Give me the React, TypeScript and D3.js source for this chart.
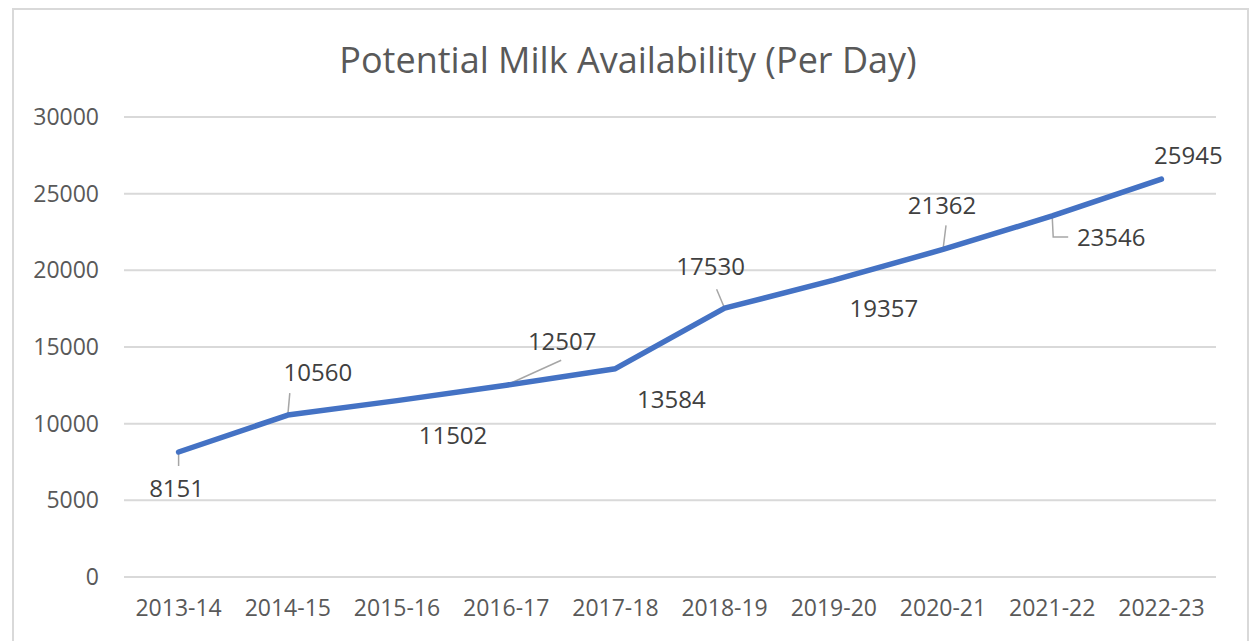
import * as d3 from "d3";
import React, { useEffect, useRef } from "react";

const years = [
  "2013-14",
  "2014-15",
  "2015-16",
  "2016-17",
  "2017-18",
  "2018-19",
  "2019-20",
  "2020-21",
  "2021-22",
  "2022-23",
];
const milkPerDay = [8151, 10560, 11502, 12507, 13584, 17530, 19357, 21362, 23546, 25945];
const yTicks = [0, 5000, 10000, 15000, 20000, 25000, 30000];

// where each data label sits relative to its point, and optional leader line points
const labelLayout: { dx: number; dy: number; leader?: [number, number][] }[] = [
  { dx: -2, dy: 37, leader: [[0, 14]] },
  { dx: 30, dy: -42, leader: [[2, -22]] },
  { dx: 56, dy: 35 },
  { dx: 56, dy: -44, leader: [[55, -25]] },
  { dx: 56, dy: 31 },
  { dx: -14, dy: -42, leader: [[-8, -19]] },
  { dx: 50, dy: 28 },
  { dx: -1, dy: -44, leader: [[3, -24]] },
  { dx: 59, dy: 22, leader: [[1, 21], [16, 21]] },
  { dx: 27, dy: -24 },
];

const W = 1252;
const H = 641;
const FONT = "'Open Sans', 'Noto Sans', sans-serif";
const TEXT = "#595959";

const App: React.FC = () => {
  const svgRef = useRef<SVGSVGElement>(null);

  useEffect(() => {
    if (!svgRef.current) return;
    const svg = d3.select(svgRef.current);
    svg.selectAll("*").remove();

    const left = 124;
    const right = 1216;
    const top = 117;
    const bottom = 577;

    svg.append("rect").attr("width", W).attr("height", H).attr("fill", "#fff");
    // chart frame
    svg
      .append("rect")
      .attr("x", 13)
      .attr("y", 9)
      .attr("width", 1235)
      .attr("height", 660)
      .attr("fill", "none")
      .attr("stroke", "#d9d9d9")
      .attr("stroke-width", 2);

    const x = d3.scaleBand().domain(years).range([left, right]);
    const y = d3.scaleLinear().domain([0, 30000]).range([bottom, top]);
    const cx = (d: string) => (x(d) || 0) + x.bandwidth() / 2;

    // gridlines
    svg
      .append("g")
      .selectAll("line")
      .data(yTicks)
      .join("line")
      .attr("x1", left)
      .attr("x2", right)
      .attr("y1", (d) => y(d))
      .attr("y2", (d) => y(d))
      .attr("stroke", "#d9d9d9")
      .attr("stroke-width", 2);

    // y tick labels
    svg
      .append("g")
      .selectAll("text")
      .data(yTicks)
      .join("text")
      .attr("x", 99)
      .attr("y", (d) => y(d))
      .attr("dy", "0.35em")
      .attr("text-anchor", "end")
      .attr("fill", TEXT)
      .style("font-family", FONT)
      .style("font-size", "23px")
      .text((d) => String(d));

    // x tick labels
    svg
      .append("g")
      .selectAll("text")
      .data(years)
      .join("text")
      .attr("x", (d) => cx(d))
      .attr("y", 608)
      .attr("dy", "0.35em")
      .attr("text-anchor", "middle")
      .attr("fill", TEXT)
      .style("font-family", FONT)
      .style("font-size", "23px")
      .text((d) => d);

    const pts = years.map((yr, i) => [cx(yr), y(milkPerDay[i])] as [number, number]);

    // leader lines
    const leaders = svg.append("g");
    pts.forEach((p, i) => {
      const lay = labelLayout[i];
      if (!lay.leader) return;
      const path = [p, ...lay.leader.map(([a, b]) => [p[0] + a, p[1] + b] as [number, number])];
      leaders
        .append("path")
        .attr("d", d3.line()(path))
        .attr("fill", "none")
        .attr("stroke", "#a6a6a6")
        .attr("stroke-width", 1.5);
    });

    // series line
    svg
      .append("path")
      .attr("d", d3.line()(pts))
      .attr("fill", "none")
      .attr("stroke", "#4472c4")
      .attr("stroke-width", 5.5)
      .attr("stroke-linejoin", "round")
      .attr("stroke-linecap", "round");

    // data labels
    svg
      .append("g")
      .selectAll("text")
      .data(milkPerDay)
      .join("text")
      .attr("x", (d, i) => pts[i][0] + labelLayout[i].dx)
      .attr("y", (d, i) => pts[i][1] + labelLayout[i].dy)
      .attr("dy", "0.35em")
      .attr("text-anchor", "middle")
      .attr("fill", "#404040")
      .style("font-family", FONT)
      .style("font-size", "24px")
      .text((d) => String(d));

    // title
    svg
      .append("text")
      .attr("x", 628)
      .attr("y", 60)
      .attr("dy", "0.35em")
      .attr("text-anchor", "middle")
      .attr("fill", TEXT)
      .style("font-family", FONT)
      .style("font-size", "36px")
      .text("Potential Milk Availability (Per Day)");
  }, []);

  return (
    <svg
      ref={svgRef}
      width={W}
      height={H}
      style={{ position: "absolute", left: 0, top: 0, display: "block" }}
    />
  );
};

export default App;
